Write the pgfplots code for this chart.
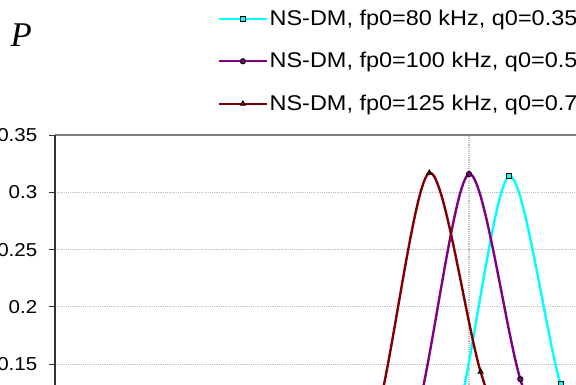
\documentclass[border=0pt]{standalone}
\usepackage{pgfplots}
\pgfplotsset{compat=1.18}
\usepackage{fontspec}
\setmainfont{Liberation Sans}[FakeStretch=1.1]
\newfontfamily\serifit{Liberation Serif}
\definecolor{cy}{RGB}{0,255,255}
\definecolor{pu}{RGB}{128,0,128}
\definecolor{dr}{RGB}{128,0,0}
\begin{document}
\begin{tikzpicture}
\useasboundingbox (-41.25pt,113.4pt) rectangle (390.75pt,402.1pt);
\clip (-41.25pt,113.4pt) rectangle (390.75pt,402.1pt);
\begin{axis}[
  scale only axis, width=487.5pt, height=300.8pt,
  xmin=0, xmax=650, ymin=0, ymax=0.35,
  ytick={0.15,0.2,0.25,0.3,0.35},
  xtick={414}, xticklabels={},
  xmajorgrids, ymajorgrids,
  grid style={densely dotted, line width=0.8pt, color=black!25},
  separate axis lines,
  x axis line style={draw=black!50, line width=1.1pt},
  y axis line style={draw=black!80, line width=1.1pt},
  ytick pos=left, xtick style={draw=none},
  tick align=outside, major tick length=4.5pt,
  ytick style={draw=black!80, line width=0.8pt},
  yticklabel style={font=\fontsize{14}{16}\selectfont, xshift=-5.25pt},
  /pgf/number format/assume math mode=true,
  /pgf/number format/fixed,
  legend cell align=left,
  legend style={draw=none, fill=none, at={(axis description cs:0.2507,1.3175)}, anchor=north west,
    font=\fontsize{16}{19}\selectfont, row sep=15.8pt, inner sep=0pt, nodes={inner sep=1.5pt}},
  legend image code/.code={\draw[mark repeat=2,mark phase=2,#1] plot coordinates {(0pt,0pt) (17.6pt,0pt) (35.25pt,0pt)};},
]
\addplot[cy, line width=1.8pt, smooth, tension=0.5, mark=square*, mark size=1.9pt,
  mark options={solid, fill=cy, draw=black, line width=0.6pt}]
  coordinates {(351.7,0.005) (403.0,0.107) (454.3,0.314) (505.6,0.1325) (556.9,0.02)};
\addlegendentry{NS-DM, fp0=80 kHz, q0=0.35}
\addplot[pu, line width=1.8pt, smooth, tension=0.5, mark=*, mark size=2pt,
  mark options={solid, fill=pu, draw=black, line width=0.6pt}]
  coordinates {(311.4,0.005) (362.7,0.11) (414.0,0.316) (465.3,0.137) (516.6,0.02)};
\addlegendentry{NS-DM, fp0=100 kHz, q0=0.5}
\addplot[dr, line width=1.8pt, smooth, tension=0.5, mark=triangle*, mark size=2.2pt,
  mark options={solid, fill=dr, draw=black, line width=0.6pt}]
  coordinates {(271.7,0.005) (323.0,0.11) (374.3,0.317) (425.6,0.1435) (476.9,0.02)};
\addlegendentry{NS-DM, fp0=125 kHz, q0=0.75}
\end{axis}
\node[anchor=base west, inner sep=0pt, font=\serifit\itshape\fontsize{26}{26}\selectfont] at (-33.5pt,367.3pt) {P};
\end{tikzpicture}
\end{document}
